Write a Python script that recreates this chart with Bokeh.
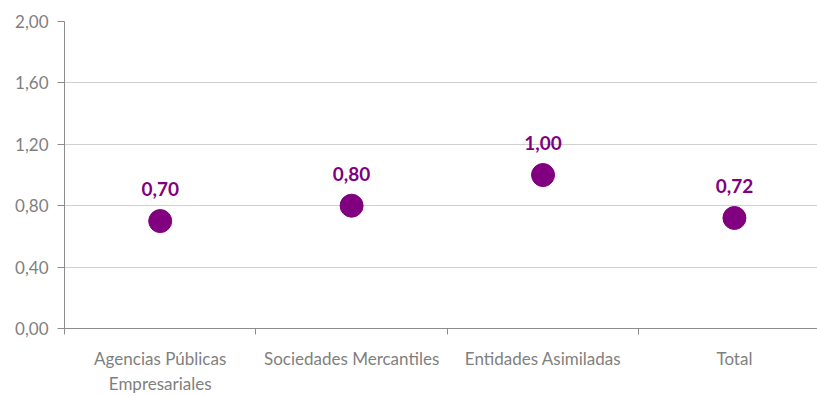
from bokeh.plotting import figure
from bokeh.models import ColumnDataSource, Range1d, FixedTicker, LabelSet
from bokeh.core.properties import value
from bokeh.embed import file_html
from bokeh.resources import INLINE

categories = ["Agencias Públicas\nEmpresariales", "Sociedades Mercantiles", "Entidades Asimiladas", "Total"]
values = [0.70, 0.80, 1.00, 0.72]
y_ticks = [0.0, 0.4, 0.8, 1.2, 1.6, 2.0]
y_tick_labels = ["0,00", "0,40", "0,80", "1,20", "1,60", "2,00"]

xs = [i + 0.5 for i in range(len(categories))]
labels = [f"{v:.2f}".replace(".", ",") for v in values]
src = ColumnDataSource(dict(x=xs, y=values, lab=labels))

p = figure(width=817, height=396, output_backend="svg", toolbar_location=None,
           x_range=Range1d(0, 3.934), y_range=Range1d(0, 2.0),
           min_border_left=64, min_border_right=0, min_border_top=21, min_border_bottom=68)
p.outline_line_color = None
p.background_fill_color = "white"
p.border_fill_color = "white"

FONT = "Lato"
GRAY = "#7f7f7f"

# y axis
p.yaxis.ticker = FixedTicker(ticks=y_ticks)
p.yaxis.major_label_overrides = {t: l for t, l in zip(y_ticks, y_tick_labels)}
p.yaxis.major_label_text_font = FONT
p.yaxis.major_label_text_font_size = "17px"
p.yaxis.major_label_text_color = GRAY
p.yaxis.axis_line_color = "#8c8c8c"
p.yaxis.major_tick_line_color = "#8c8c8c"
p.yaxis.major_tick_out = 7
p.yaxis.major_tick_in = 0
p.yaxis.minor_tick_line_color = None
p.yaxis.major_label_standoff = 9

# x axis
p.xaxis.ticker = FixedTicker(ticks=xs, minor_ticks=list(range(len(categories))))
p.xaxis.major_label_overrides = {x: c for x, c in zip(xs, categories)}
p.xaxis.major_label_text_font = FONT
p.xaxis.major_label_text_font_size = "17px"
p.xaxis.major_label_text_color = GRAY
p.xaxis.axis_line_color = "#8c8c8c"
p.xaxis.major_tick_line_color = None
p.xaxis.major_tick_out = 0
p.xaxis.major_tick_in = 0
p.xaxis.minor_tick_line_color = "#8c8c8c"
p.xaxis.minor_tick_out = 6
p.xaxis.minor_tick_in = 0
p.xaxis.major_label_standoff = 13

p.xgrid.grid_line_color = None
p.ygrid.ticker = FixedTicker(ticks=y_ticks)
p.ygrid.grid_line_color = "#a0a0a0"
p.ygrid.grid_line_dash = "1 1"
p.ygrid.grid_line_width = 1

p.scatter("x", "y", source=src, size=23, fill_color="#800080", line_color="#800080")

lbl = LabelSet(x="x", y="y", text="lab", source=src, y_offset=25, x_offset=0,
               text_align="center", text_baseline="bottom",
               text_font=value(FONT), text_font_style="bold", text_font_size="19px",
               text_color="#800080")
p.add_layout(lbl)

open("out.html", "w").write(file_html(p, INLINE))
